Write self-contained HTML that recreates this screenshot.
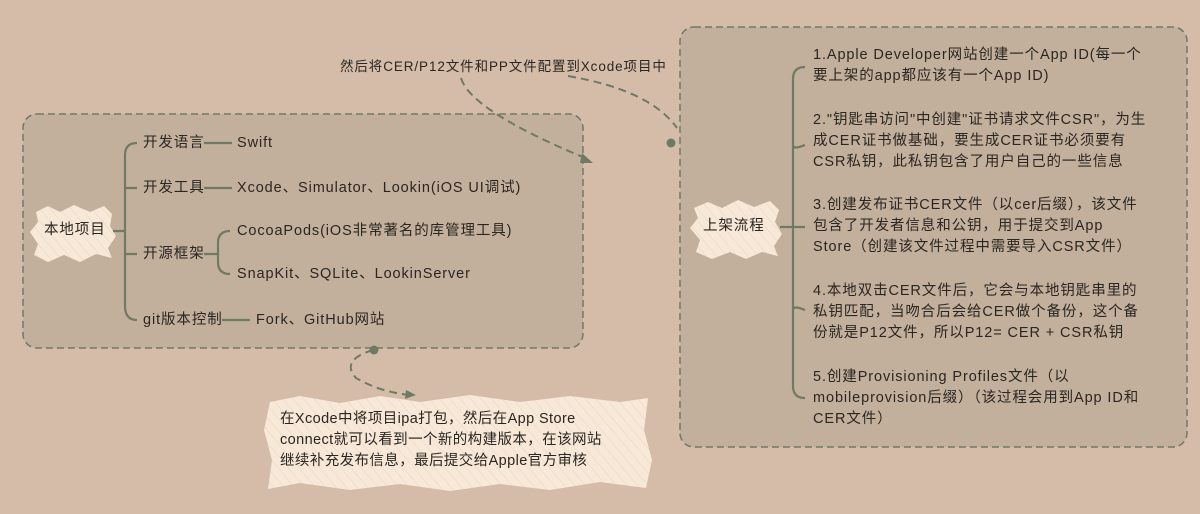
<!DOCTYPE html>
<html><head><meta charset="utf-8"><style>
body{margin:0;width:1200px;height:514px;background:#d5bca9;position:relative;overflow:hidden;font-family:"Liberation Sans","Noto Sans CJK SC",sans-serif;color:#2a2622}
.t{position:absolute;font-size:14.5px;white-space:nowrap;line-height:21px;letter-spacing:0.9px}
</style></head><body>
<svg width="1200" height="514" style="position:absolute;left:0;top:0">
<defs><pattern id="h" width="8" height="8" patternUnits="userSpaceOnUse" patternTransform="rotate(-40)"><rect width="8" height="8" fill="#f7e8d8"/><line x1="0" y1="0" x2="0" y2="8" stroke="#e8d6c3" stroke-width="1"/></pattern></defs>
<rect x="23" y="114" width="560" height="234" rx="14" fill="#c3b09c" stroke="#6f7a66" stroke-width="1.5" stroke-dasharray="7 4"/>
<rect x="680" y="27" width="507" height="420" rx="14" fill="#c3b09c" stroke="#6f7a66" stroke-width="1.5" stroke-dasharray="7 4"/>
<g fill="url(#h)">
<polygon points="36,212 48,206 60,212 74,205 90,212 104,206 112,214 110,226 116,236 108,248 112,258 96,254 80,262 64,255 48,262 34,255 38,244 30,232 38,222"/>
<polygon points="694,208 708,202 722,208 738,200 754,207 770,201 779,210 775,222 782,234 774,246 778,256 762,252 746,259 730,252 712,259 696,252 700,240 690,228 698,218"/>
<polygon points="270,402 300,396 340,403 380,396 420,402 470,395 520,402 570,396 620,402 648,398 644,430 652,460 646,488 600,482 550,490 500,484 450,491 400,484 350,490 300,483 268,489 272,460 264,430"/>
</g>
<g fill="none" stroke="#6e7a63" stroke-width="2.2">
<path d="M113,231 H125 M137,143 Q125,143 125,155 V306 Q125,320 137,320 M125,188 Q125,188 137,188 M125,254 Q125,254 137,254"/>
<path d="M204,143 H232 M204,188 H232 M204,254 H218 M230,231 Q218,231 218,243 V262 Q218,274 230,274 M222,320 H250"/>
<path d="M780,227 H805 M805,67 Q793,67 793,79 V386 Q793,398 805,398 M793,145 Q793,150 805,145 M793,310 Q793,305 805,310"/>
</g>
<g fill="none" stroke="#6f7a66" stroke-width="2" stroke-dasharray="8 5">
<path d="M461,78 Q470,110 585,158"/>
<path d="M568,76 Q650,90 677,128"/>
<path d="M373,350 Q340,360 356,378 Q380,392 410,395"/>
</g>
<g fill="#6f7a66">
<polygon points="582,153 593,163 580,163"/>
<polygon points="406,390 416,395 405,399"/>
<circle cx="671" cy="143" r="4.5"/><circle cx="374" cy="350" r="4.5"/>
</g>
</svg>
<div class="t" style="left:44px;top:220px">本地项目</div>
<div class="t" style="left:143px;top:133px">开发语言</div>
<div class="t" style="left:237px;top:133px">Swift</div>
<div class="t" style="left:143px;top:178px">开发工具</div>
<div class="t" style="left:237px;top:178px">Xcode、Simulator、Lookin(iOS UI调试)</div>
<div class="t" style="left:143px;top:244px">开源框架</div>
<div class="t" style="left:237px;top:221px">CocoaPods(iOS非常著名的库管理工具)</div>
<div class="t" style="left:237px;top:264px">SnapKit、SQLite、LookinServer</div>
<div class="t" style="left:143px;top:310px">git版本控制</div>
<div class="t" style="left:256px;top:310px">Fork、GitHub网站</div>
<div class="t" style="left:340px;top:56px;font-size:13.5px">然后将CER/P12文件和PP文件配置到Xcode项目中</div>
<div class="t" style="left:703px;top:216px">上架流程</div>
<div class="t" style="left:813px;top:45px">1.Apple Developer网站创建一个App ID(每一个<br>要上架的app都应该有一个App ID)</div>
<div class="t" style="left:813px;top:110px">2."钥匙串访问"中创建"证书请求文件CSR"，为生<br>成CER证书做基础，要生成CER证书必须要有<br>CSR私钥，此私钥包含了用户自己的一些信息</div>
<div class="t" style="left:813px;top:195px">3.创建发布证书CER文件（以cer后缀），该文件<br>包含了开发者信息和公钥，用于提交到App<br>Store（创建该文件过程中需要导入CSR文件）</div>
<div class="t" style="left:813px;top:281px">4.本地双击CER文件后，它会与本地钥匙串里的<br>私钥匹配，当吻合后会给CER做个备份，这个备<br>份就是P12文件，所以P12= CER + CSR私钥</div>
<div class="t" style="left:813px;top:367px">5.创建Provisioning Profiles文件（以<br>mobileprovision后缀）（该过程会用到App ID和<br>CER文件）</div>
<div class="t" style="left:280px;top:409px;letter-spacing:0.4px">在Xcode中将项目ipa打包，然后在App Store<br>connect就可以看到一个新的构建版本，在该网站<br>继续补充发布信息，最后提交给Apple官方审核</div>
</body></html>
